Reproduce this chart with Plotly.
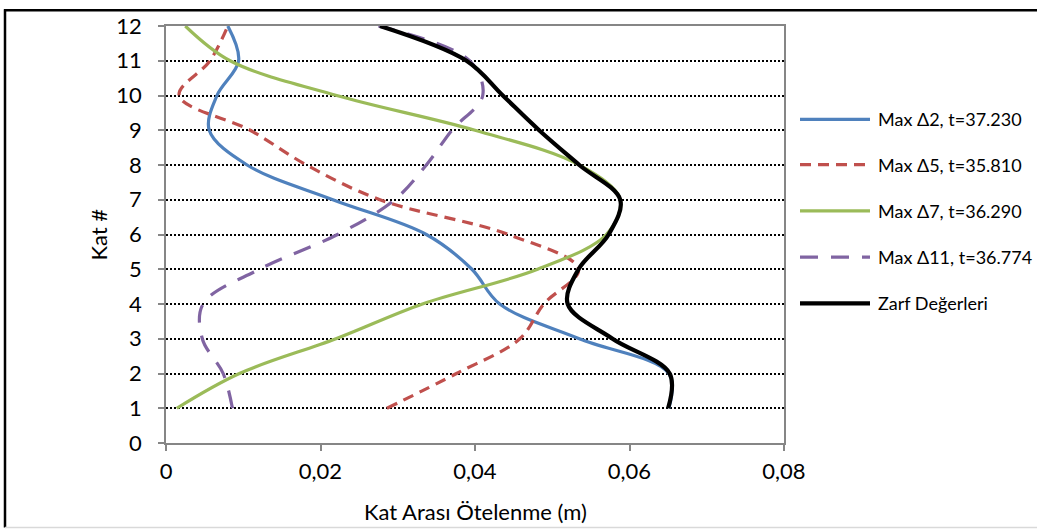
import plotly.graph_objects as go

# Storey numbers and peak inter-storey drift (m) per load case
floors = [1, 2, 3, 4, 5, 6, 7, 8, 9, 10, 11, 12]

drift_d2 = [0.0651, 0.0651, 0.0535, 0.0432, 0.0396, 0.0337, 0.0216, 0.0105, 0.0056, 0.0066, 0.0094, 0.0080]
drift_d5 = [0.0286, 0.0376, 0.0458, 0.0489, 0.0534, 0.0443, 0.0277, 0.0182, 0.0109, 0.0017, 0.0057, 0.0080]
drift_d7 = [0.0014, 0.0095, 0.0220, 0.0332, 0.0481, 0.0570, 0.0588, 0.0535, 0.0400, 0.0221, 0.0083, 0.0025]
drift_d11 = [0.0086, 0.0074, 0.0047, 0.0048, 0.0121, 0.0222, 0.0296, 0.0337, 0.0370, 0.0410, 0.0393, 0.0275]
envelope = [0.0650, 0.0652, 0.0578, 0.0520, 0.0534, 0.0573, 0.0588, 0.0535, 0.0483, 0.0436, 0.0389, 0.0277]

series_names = [
    "Max \u03942, t=37.230",
    "Max \u03945, t=35.810",
    "Max \u03947, t=36.290",
    "Max \u039411, t=36.774",
    "Zarf De\u011ferleri",
]
series_values = [drift_d2, drift_d5, drift_d7, drift_d11, envelope]
series_colors = ["#4F81BD", "#C0504D", "#9BBB59", "#8064A2", "#000000"]
series_dash = ["solid", "11px,7px", "solid", "18px,13px", "solid"]
series_width = [3.2, 3.2, 3.2, 3.2, 4.2]

x_ticks = [0, 0.02, 0.04, 0.06, 0.08]
x_tick_labels = ["0", "0,02", "0,04", "0,06", "0,08"]
y_ticks = list(range(0, 13))

FONT = "Lato"
FS_AXIS = 22
FS_LEG = 18
W, H = 1037, 531
ML, MR, MT, MB = 166, 253, 19, 88
PW, PH = W - ML - MR, H - MT - MB


def px_x(p):
    return (p - ML) / PW


def px_y(p):
    return (H - MB - p) / PH


fig = go.Figure()
for name, vals, col, dash, lw in zip(series_names, series_values, series_colors, series_dash, series_width):
    fig.add_trace(go.Scatter(
        x=vals, y=floors, mode="lines", name=name,
        line=dict(color=col, width=lw, dash=dash, shape="spline", smoothing=1.0),
        showlegend=False,
    ))

shapes = []
annotations = []

# legend drawn beside the plot
row_y = [114, 160, 207, 254, 301]
for name, col, dash, lw, ry in zip(series_names, series_colors, series_dash, series_width, row_y):
    shapes.append(dict(type="line", xref="paper", yref="paper",
                       x0=px_x(800), x1=px_x(870), y0=px_y(ry), y1=px_y(ry),
                       line=dict(color=col, width=lw, dash=dash)))
    annotations.append(dict(text=name, xref="paper", yref="paper",
                            x=px_x(876), y=px_y(ry), xanchor="left", yanchor="middle",
                            showarrow=False, font=dict(family=FONT, size=FS_LEG, color="#000")))

# axis titles
annotations.append(dict(text="Kat Aras\u0131 \u00d6telenme (m)", xref="paper", yref="paper",
                        x=px_x(475), y=px_y(513), xanchor="center", yanchor="middle",
                        showarrow=False, font=dict(family=FONT, size=FS_AXIS, color="#000")))
annotations.append(dict(text="Kat #", xref="paper", yref="paper", textangle=-90,
                        x=px_x(98), y=px_y(231), xanchor="center", yanchor="middle",
                        showarrow=False, font=dict(family=FONT, size=FS_AXIS, color="#000")))

# chart-area frame
shapes.append(dict(type="line", xref="paper", yref="paper", x0=px_x(5), x1=px_x(5),
                   y0=px_y(2), y1=px_y(529), line=dict(color="#000", width=2.5)))
shapes.append(dict(type="line", xref="paper", yref="paper", x0=px_x(4), x1=px_x(1040),
                   y0=px_y(3), y1=px_y(3), line=dict(color="#000", width=2.5)))
shapes.append(dict(type="line", xref="paper", yref="paper", x0=px_x(5), x1=px_x(1040),
                   y0=px_y(529), y1=px_y(529), line=dict(color="#D9D9D9", width=1.5)))

fig.update_layout(
    width=W, height=H,
    margin=dict(l=ML, r=MR, t=MT, b=MB),
    paper_bgcolor="white", plot_bgcolor="white",
    font=dict(family=FONT, size=FS_AXIS, color="#000"),
    shapes=shapes, annotations=annotations,
    showlegend=False,
)
fig.update_xaxes(
    range=[0, 0.08], tickvals=x_ticks, ticktext=x_tick_labels,
    showgrid=False, zeroline=False,
    showline=True, linecolor="#868686", linewidth=1.5, mirror=True,
    ticks="outside", ticklen=6, tickcolor="#868686", tickwidth=1.5,
    ticklabelstandoff=2,
    tickfont=dict(family=FONT, size=FS_AXIS, color="#000"),
)
fig.update_yaxes(
    range=[0, 12], tickvals=y_ticks,
    showgrid=True, gridcolor="#000", gridwidth=2, griddash="2px,2px",
    zeroline=False,
    showline=True, linecolor="#868686", linewidth=1.5, mirror=True,
    ticks="outside", ticklen=6, tickcolor="#868686", tickwidth=1.5,
    ticklabelstandoff=12,
    tickfont=dict(family=FONT, size=FS_AXIS, color="#000"),
)

fig.write_html("out.html")
